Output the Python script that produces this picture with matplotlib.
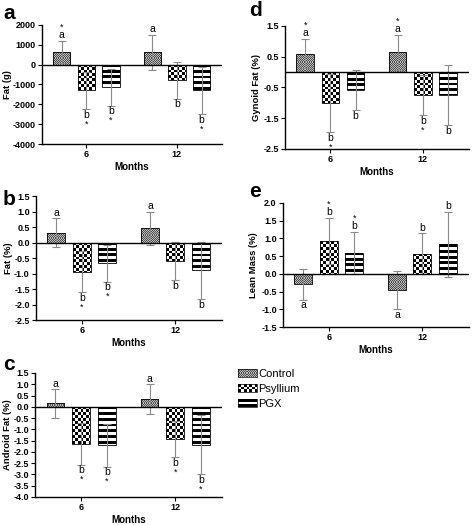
import numpy as np
import matplotlib
matplotlib.use('Agg')
import matplotlib.pyplot as plt
from matplotlib.transforms import blended_transform_factory

plt.rcParams['font.family'] = ['Liberation Sans', 'DejaVu Sans']
plt.rcParams['axes.unicode_minus'] = False

months = ['6', '12']
groups = ['Control', 'Psyllium', 'PGX']

# order: 6 mo (Control, Psyllium, PGX), then 12 mo (Control, Psyllium, PGX)
fat_g = [630, -1300, -1135, 620, -785, -1300]
fat_g_sd = [570, 950, 935, 900, 935, 1200]
fat_g_let = ['a', 'b', 'b', 'a', 'b', 'b']
fat_g_star = [1, 1, 1, 0, 0, 1]

fat_pct = [0.32, -0.94, -0.67, 0.46, -0.60, -0.90]
fat_pct_sd = [0.46, 0.66, 0.59, 0.53, 0.62, 0.93]
fat_pct_let = ['a', 'b', 'b', 'a', 'b', 'b']
fat_pct_star = [0, 1, 1, 0, 0, 0]

android = [0.15, -1.65, -1.71, 0.33, -1.44, -1.69]
android_sd = [0.63, 0.92, 0.95, 0.67, 0.79, 1.31]
android_let = ['a', 'b', 'b', 'a', 'b', 'b']
android_star = [0, 1, 1, 0, 1, 1]

gynoid = [0.60, -1.00, -0.575, 0.64, -0.75, -0.75]
gynoid_sd = [0.48, 0.95, 0.66, 0.58, 0.65, 0.97]
gynoid_let = ['a', 'b', 'b', 'a', 'b', 'b']
gynoid_star = [1, 1, 0, 1, 1, 0]

lean = [-0.29, 0.93, 0.60, -0.45, 0.57, 0.84]
lean_sd = [0.44, 0.66, 0.59, 0.54, 0.57, 0.92]
lean_let = ['a', 'b', 'b', 'a', 'b', 'b']
lean_star = [0, 1, 1, 0, 0, 0]

W, H = 472, 525
fig = plt.figure(figsize=(W / 100, H / 100), dpi=100)

group_pos = np.array([0.0, 3.67])
bar_x = np.concatenate([g + np.array([-1.0, 0.0, 1.0]) for g in group_pos])
bar_kind = ['control', 'psyllium', 'pgx'] * 2


def px_rect(left, top, right, bottom):
    return [left / W, 1 - bottom / H, (right - left) / W, (bottom - top) / H]


def pattern(kind, ny, nx):
    yy, xx = np.mgrid[0:ny, 0:nx]
    img = np.ones((ny, nx, 3))
    if kind == 'control':
        dark = (yy + xx) % 2 == 0
        img[:] = 0.74
        img[dark] = 0.30
    elif kind == 'psyllium':
        dark = ((yy // 3) + (xx // 3)) % 2 == 0
        img[dark] = 0.0
    else:
        dark = (yy // 3) % 2 == 0
        img[dark] = 0.0
    return img


def fill_bar(ax, rect, kind):
    x0, y0 = rect.get_x(), rect.get_y()
    x1, y1 = x0 + rect.get_width(), y0 + rect.get_height()
    lo, hi = min(y0, y1), max(y0, y1)
    p0 = ax.transData.transform((x0, lo))
    p1 = ax.transData.transform((x1, hi))
    nx = int(np.ceil(abs(p1[0] - p0[0]))) + 1
    ny = int(np.ceil(abs(p1[1] - p0[1]))) + 1
    im = ax.imshow(pattern(kind, ny, nx), extent=(x0, x1, lo, hi),
                   aspect='auto', interpolation='nearest', zorder=1)
    im.set_clip_path(rect)


def panel(rect, vals, sds, lets, stars, ylim, yticks, fmt, ylabel, label_x):
    ax = fig.add_axes(rect)
    ax.set_xlim(-1.8, 5.5)
    ax.set_ylim(*ylim)
    ax.set_autoscale_on(False)
    bars = ax.bar(bar_x, vals, width=0.7, facecolor='none',
                  edgecolor='black', linewidth=0.6, zorder=2)
    for b, k in zip(bars, bar_kind):
        fill_bar(ax, b, k)
    ax.errorbar(bar_x, vals, yerr=sds, fmt='none', ecolor='#8a8a8a',
                elinewidth=0.8, capsize=3, capthick=0.8, zorder=3)
    ax.axhline(0, color='black', lw=1.0, zorder=4)
    for x, v, s, l, st in zip(bar_x, vals, sds, lets, stars):
        if v >= 0:
            y = v + s
            ax.annotate(l, (x, y), xytext=(0, 0.3), textcoords='offset points',
                        ha='center', va='bottom', fontsize=7.5)
            if st:
                ax.annotate('*', (x, y), xytext=(0, 6.5), textcoords='offset points',
                            ha='center', va='bottom', fontsize=6.5)
        else:
            y = v - s
            ax.annotate(l, (x, y), xytext=(0, -0.5), textcoords='offset points',
                        ha='center', va='top', fontsize=7.5)
            if st:
                ax.annotate('*', (x, y), xytext=(0, -7.5), textcoords='offset points',
                            ha='center', va='top', fontsize=6.5)
    ax.set_yticks(yticks, labels=[fmt % t for t in yticks], fontweight='bold')
    ax.set_xticks(group_pos, labels=months, fontweight='bold')
    ax.tick_params(direction='out', length=3, width=0.8, labelsize=6.5, pad=1.5)
    for sp in ['top', 'right']:
        ax.spines[sp].set_visible(False)
    for sp in ['left', 'bottom']:
        ax.spines[sp].set_linewidth(1.0)
    ax.set_ylabel(ylabel, fontsize=6.8, fontweight='bold')
    ax.yaxis.set_label_coords(label_x / W, 0.5,
                              transform=blended_transform_factory(fig.transFigure, ax.transAxes))
    ax.set_xlabel('Months', fontsize=7, fontweight='bold', labelpad=2)
    return ax


panel(px_rect(42, 25, 222, 144), fat_g, fat_g_sd, fat_g_let, fat_g_star,
      (-4000, 2000), np.arange(-4000, 2001, 1000), '%d', 'Fat (g)', 12)
panel(px_rect(36, 196, 222, 320), fat_pct, fat_pct_sd, fat_pct_let, fat_pct_star,
      (-2.5, 1.5), np.arange(-2.5, 1.51, 0.5), '%.1f', 'Fat (%)', 13)
panel(px_rect(35, 373, 222, 497), android, android_sd, android_let, android_star,
      (-4.0, 1.5), np.arange(-4.0, 1.51, 0.5), '%.1f', 'Android Fat (%)', 12)
panel(px_rect(285, 26, 469, 149), gynoid, gynoid_sd, gynoid_let, gynoid_star,
      (-2.5, 1.5), np.arange(-2.5, 1.51, 1.0), '%.1f', 'Gynoid Fat (%)', 261)
panel(px_rect(283, 203, 469, 327), lean, lean_sd, lean_let, lean_star,
      (-1.5, 2.0), np.arange(-1.5, 2.01, 0.5), '%.1f', 'Lean Mass (%)', 258)

# panel letters
for letter, xp, yp in [('a', 3, 19), ('b', 3, 205), ('c', 3, 370),
                       ('d', 249, 16), ('e', 249, 197)]:
    fig.text(xp / W, 1 - yp / H, letter, fontsize=15, fontweight='bold',
             va='baseline', ha='left')

# legend drawn as swatches
lax = fig.add_axes(px_rect(236, 360, 336, 412))
lax.set_xlim(0, 100)
lax.set_ylim(52, 0)
lax.set_autoscale_on(False)
lax.axis('off')
for i, (name, kind) in enumerate(zip(groups, ['control', 'psyllium', 'pgx'])):
    top = 9 + i * 15.2
    sw = plt.Rectangle((1.5, top), 19, 8, facecolor='none',
                       edgecolor='black', linewidth=0.5, zorder=2)
    lax.add_patch(sw)
    fill_bar(lax, sw, kind)
    lax.text(22.5, top + 8, name, fontsize=8, va='baseline', ha='left')

fig.savefig('out.png', dpi=100)
